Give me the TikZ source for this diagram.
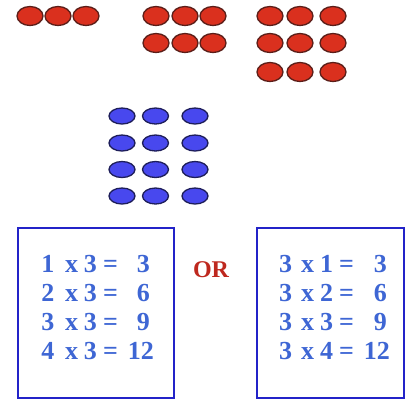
\documentclass[tikz,border=0pt]{standalone}
\usepackage{fontspec}
\setmainfont{Liberation Serif}
\usetikzlibrary{shapes.geometric}
\definecolor{redfill}{RGB}{218,48,30}
\definecolor{redline}{RGB}{90,30,25}
\definecolor{bluefill}{RGB}{72,72,238}
\definecolor{blueline}{RGB}{30,30,90}
\definecolor{eqblue}{RGB}{62,102,212}
\definecolor{boxblue}{RGB}{35,35,200}
\definecolor{orred}{RGB}{190,40,30}
\begin{document}
\begin{tikzpicture}[x=1pt,y=-1pt,
  reddot/.style={ellipse, draw=redline, line width=1.3pt, fill=redfill, minimum width=26pt, minimum height=19pt, inner sep=0pt},
  bluedot/.style={ellipse, draw=blueline, line width=1.3pt, fill=bluefill, minimum width=26pt, minimum height=16pt, inner sep=0pt},
  eqtext/.style={font=\bfseries\fontsize{26}{26}\selectfont, text=eqblue, anchor=base, inner sep=0pt},
  eqbox/.style={draw=boxblue, line width=2.2pt}]
\useasboundingbox (0,0) rectangle (408,400);
% red groups
\foreach \x [count=\i] in {30,58,86} \node[reddot] (a\i) at (\x,16) {};
\foreach \x [count=\i] in {156,185,213} {
  \node[reddot] (b1\i) at (\x,16) {};
  \node[reddot] (b2\i) at (\x,43) {};
}
\foreach \x [count=\i] in {270,300,333} {
  \node[reddot] (c1\i) at (\x,16) {};
  \node[reddot] (c2\i) at (\x,43) {};
  \node[reddot] (c3\i) at (\x,72) {};
}
% blue group
\foreach \x [count=\i] in {122,155.5,195} {
  \foreach \y [count=\j] in {116,143,169.5,196} {
    \node[bluedot] (d\j\i) at (\x,\y) {};
  }
}
% boxes
\draw[eqbox] (18,228) rectangle (174,398);
\draw[eqbox] (257,228) rectangle (404,398);
% OR
\node[font=\bfseries\fontsize{24}{24}\selectfont, text=orred, anchor=base, inner sep=0pt] (or) at (211,277) {OR};
% equations
\foreach \a/\r/\y/\le/\re [count=\k] in {1/3/272/150/387, 2/6/301/150/387, 3/9/330/150/387, 4/12/359/154/390} {
  \node[eqtext] (la\k) at (48,\y) {\a};
  \node[eqtext] (lx\k) at (71.5,\y) {x};
  \node[eqtext] (lb\k) at (90.5,\y) {3};
  \node[eqtext] (le\k) at (110.5,\y) {=};
  \node[eqtext, anchor=base east] (lr\k) at (\le,\y) {\r};
  \node[eqtext] (ra\k) at (285.5,\y) {3};
  \node[eqtext] (rx\k) at (307.5,\y) {x};
  \node[eqtext] (rb\k) at (326.5,\y) {\a};
  \node[eqtext] (re\k) at (346.5,\y) {=};
  \node[eqtext, anchor=base east] (rr\k) at (\re,\y) {\r};
}
\end{tikzpicture}
\end{document}
